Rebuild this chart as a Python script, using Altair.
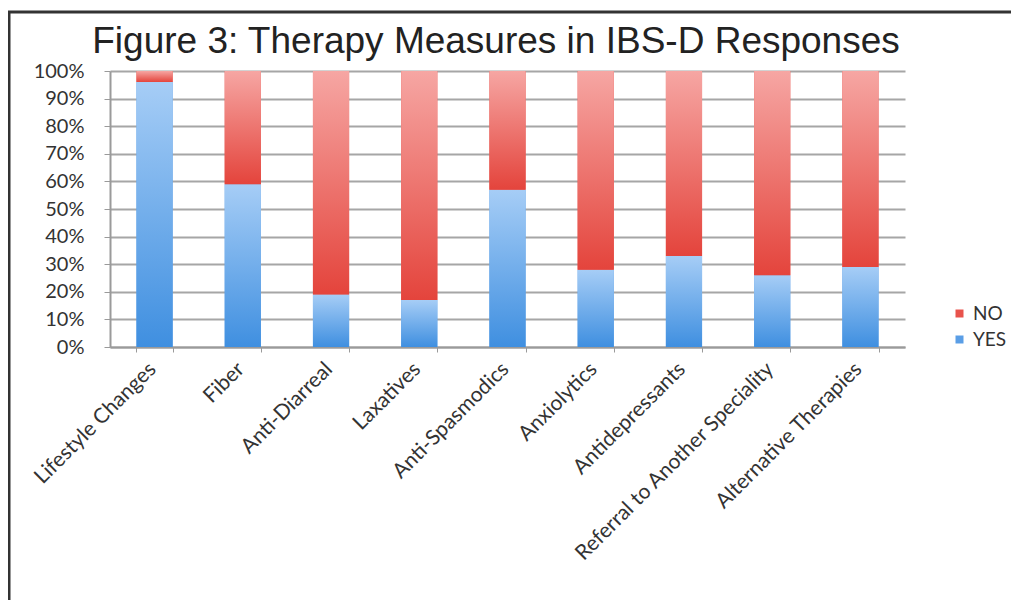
import altair as alt
import pandas as pd

categories = ["Lifestyle Changes", "Fiber", "Anti-Diarreal", "Laxatives",
              "Anti-Spasmodics", "Anxiolytics", "Antidepressants",
              "Referral to Another Speciality", "Alternative Therapies"]
yes_pct = [96, 59, 19, 17, 57, 28, 33, 26, 29]
no_pct = [4, 41, 81, 83, 43, 72, 67, 74, 71]
responses = ["NO", "YES"]
colors = ["#e8534c", "#5a9ee6"]
title_text = "Figure 3: Therapy Measures in IBS-D Responses"

rows = []
for c, y, n in zip(categories, yes_pct, no_pct):
    rows.append({"category": c, "response": "YES", "start": 0, "end": y})
    rows.append({"category": c, "response": "NO", "start": y, "end": y + n})
df = pd.DataFrame(rows)

x_enc = alt.X("category:N", sort=categories, title=None,
              scale=alt.Scale(paddingInner=0.59, paddingOuter=0.3),
              axis=alt.Axis(labelAngle=-45, labelFont="Lato", labelFontSize=21,
                            labelColor="#333333", tickBand="extent", tickSize=5,
                            tickColor="#9a9a9a", domainColor="#9a9a9a", domainWidth=2,
                            labelPadding=6, labelOffset=-10, labelLimit=500,
                            labelOverlap=False))
y_enc = alt.Y("start:Q", title=None,
              scale=alt.Scale(domain=[0, 100], nice=False),
              axis=alt.Axis(values=list(range(0, 101, 10)), labelExpr="datum.value + '%'",
                            labelFont="Lato", labelFontSize=20, labelColor="#333333",
                            labelOverlap=False, grid=True,
                            gridColor="#a6a6a6", gridWidth=2, domainColor="#9a9a9a",
                            domainWidth=2, tickColor="#9a9a9a", tickSize=6, labelPadding=20))

base = alt.Chart(df).mark_bar().encode(
    x=x_enc, y=y_enc, y2="end:Q",
    color=alt.Color("response:N", title=None,
                    scale=alt.Scale(domain=responses, range=colors),
                    legend=alt.Legend(orient="none", legendX=840, legendY=233,
                                      symbolType="square", symbolSize=64,
                                      labelFont="Lato", labelFontSize=19,
                                      labelColor="#333333", rowPadding=6,
                                      symbolStrokeWidth=0))
)

blue_grad = alt.LinearGradient(gradient="linear", x1=0, x2=0, y1=1, y2=0,
                               stops=[alt.GradientStop(offset=0, color="#3f8fe0"),
                                      alt.GradientStop(offset=1, color="#a6cdf6")])
red_grad = alt.LinearGradient(gradient="linear", x1=0, x2=0, y1=1, y2=0,
                              stops=[alt.GradientStop(offset=0, color="#e4443c"),
                                     alt.GradientStop(offset=1, color="#f6a6a3")])

yes_layer = alt.Chart(df).transform_filter(alt.datum.response == "YES").mark_bar(
    fill=blue_grad).encode(x=x_enc, y=y_enc, y2="end:Q")
no_layer = alt.Chart(df).transform_filter(alt.datum.response == "NO").mark_bar(
    fill=red_grad).encode(x=x_enc, y=y_enc, y2="end:Q")

one = alt.Data(values=[{"k": 1}])
left_frame = alt.Chart(one).mark_rule(color="#333333", strokeWidth=3).encode(
    x=alt.value(-101), y=alt.value(-59), y2=alt.value(530))
top_frame = alt.Chart(one).mark_rule(color="#333333", strokeWidth=3).encode(
    x=alt.value(-102), x2=alt.value(905), y=alt.value(-59))
title_mark = alt.Chart(alt.Data(values=[{"t": title_text}])).mark_text(
    font="Liberation Sans", fontSize=37, color="#222222", align="center",
    baseline="alphabetic").encode(x=alt.value(386), y=alt.value(-18), text="t:N")

chart = alt.layer(base, yes_layer, no_layer, left_frame, top_frame, title_mark).properties(
    width=795, height=276,
    autosize=alt.AutoSizeParams(type="none"),
    padding={"left": 102, "top": 63, "right": 106, "bottom": 253},
).configure_view(stroke=None).configure_axisX(grid=False)

chart.save("out.html", embed_options={"renderer": "svg", "actions": False})
